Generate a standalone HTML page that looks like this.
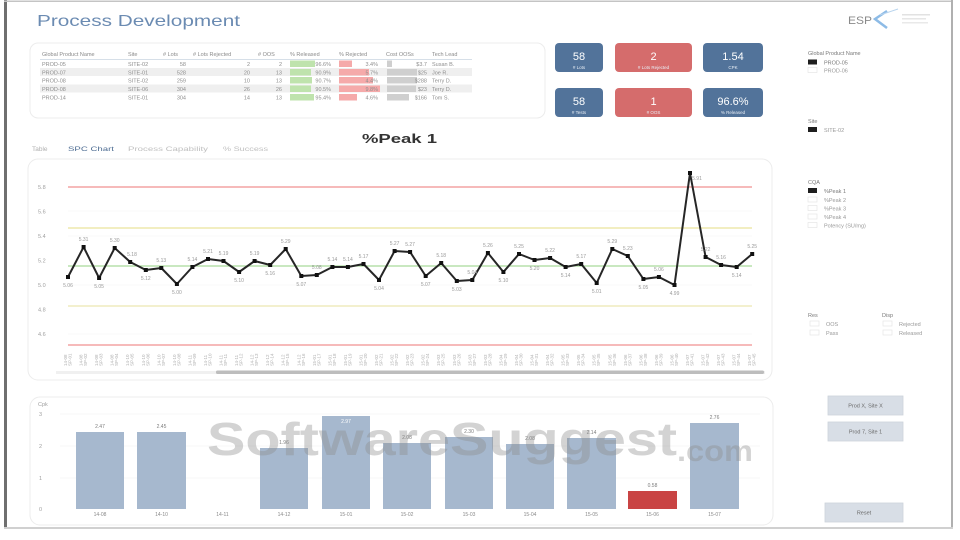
<!DOCTYPE html>
<html><head><meta charset="utf-8"><style>
html,body{margin:0;padding:0;background:#fff;}
svg{display:block;font-family:"Liberation Sans",sans-serif;}
</style></head><body>
<svg width="960" height="540" viewBox="0 0 960 540" xmlns="http://www.w3.org/2000/svg">
<rect x="0" y="0" width="960" height="540" fill="#fff"/>
<!-- frame -->
<rect x="4" y="0" width="3" height="529" fill="#6f6f6f"/>
<rect x="4" y="0.5" width="949" height="1.5" fill="#c4c4c4"/>
<rect x="951" y="0" width="2" height="529" fill="#b0b0b0"/>
<rect x="4" y="527" width="949" height="2" fill="#d0d0d0"/>

<!-- title -->
<text x="37" y="26" font-size="16" fill="#6b8bb2" textLength="203" lengthAdjust="spacingAndGlyphs">Process Development</text>

<!-- logo -->
<text x="848" y="24" font-size="11" fill="#8a8a8a" textLength="24" lengthAdjust="spacingAndGlyphs">ESP</text>
<polyline points="887,11 875,19 887,28" fill="none" stroke="#8dbbe6" stroke-width="2.5"/>
<line x1="880" y1="15" x2="898" y2="9" stroke="#b8d4ee" stroke-width="1"/>
<rect x="902" y="14" width="28" height="1.5" fill="#e2e2e2"/>
<rect x="902" y="18" width="24" height="1.5" fill="#e6e6e6"/>
<rect x="902" y="22" width="26" height="1.5" fill="#e9e9e9"/>

<!-- table card -->
<rect x="30" y="43" width="515" height="75" rx="8" fill="#fff" stroke="#ececec"/>
<g font-size="5.5" fill="#8a8a8a">
<text x="42" y="56">Global Product Name</text>
<text x="128" y="56">Site</text>
<text x="163" y="56">#  Lots</text>
<text x="193" y="56">#  Lots Rejected</text>
<text x="258" y="56"># OOS</text>
<text x="290" y="56">% Released</text>
<text x="339" y="56">% Rejected</text>
<text x="386" y="56">Cost OOSs</text>
<text x="432" y="56">Tech Lead</text>
</g>
<line x1="40" y1="59.5" x2="472" y2="59.5" stroke="#c9d4e0" stroke-width="0.8"/>
<rect x="40" y="68" width="432" height="8" fill="#efefef"/>
<rect x="40" y="84.5" width="432" height="8" fill="#efefef"/>
<!-- bars in table -->
<g fill="#bfe3ad">
<rect x="290" y="60.5" width="25" height="6.5"/>
<rect x="290" y="69" width="21" height="6.5"/>
<rect x="290" y="77" width="22" height="6.5"/>
<rect x="290" y="85.5" width="21" height="6.5"/>
<rect x="290" y="94" width="24" height="6.5"/>
</g>
<g fill="#f5aaaa">
<rect x="339" y="60.5" width="13" height="6.5"/>
<rect x="339" y="69" width="30" height="6.5"/>
<rect x="339" y="77" width="34" height="6.5"/>
<rect x="339" y="85.5" width="41" height="6.5"/>
<rect x="339" y="94" width="18" height="6.5"/>
</g>
<g fill="#cfcfcf">
<rect x="387" y="60.5" width="5" height="6.5"/>
<rect x="387" y="69" width="30" height="6.5"/>
<rect x="387" y="77" width="30" height="6.5"/>
<rect x="387" y="85.5" width="29" height="6.5"/>
<rect x="387" y="94" width="22" height="6.5"/>
</g>
<g font-size="5.5" fill="#8f8f8f">
<text x="42" y="66">PROD-05</text><text x="128" y="66">SITE-02</text>
<text x="186" y="66" text-anchor="end">58</text><text x="250" y="66" text-anchor="end">2</text><text x="282" y="66" text-anchor="end">2</text>
<text x="331" y="66" text-anchor="end">96.6%</text><text x="378" y="66" text-anchor="end">3.4%</text><text x="427" y="66" text-anchor="end">$3.7</text><text x="432" y="66">Susan B.</text>

<text x="42" y="74.5">PROD-07</text><text x="128" y="74.5">SITE-01</text>
<text x="186" y="74.5" text-anchor="end">528</text><text x="250" y="74.5" text-anchor="end">20</text><text x="282" y="74.5" text-anchor="end">13</text>
<text x="331" y="74.5" text-anchor="end">90.9%</text><text x="378" y="74.5" text-anchor="end">5.7%</text><text x="427" y="74.5" text-anchor="end">$25</text><text x="432" y="74.5">Joe R.</text>

<text x="42" y="82.5">PROD-08</text><text x="128" y="82.5">SITE-02</text>
<text x="186" y="82.5" text-anchor="end">259</text><text x="250" y="82.5" text-anchor="end">10</text><text x="282" y="82.5" text-anchor="end">13</text>
<text x="331" y="82.5" text-anchor="end">90.7%</text><text x="378" y="82.5" text-anchor="end">4.4%</text><text x="427" y="82.5" text-anchor="end">$288</text><text x="432" y="82.5">Terry D.</text>

<text x="42" y="91">PROD-08</text><text x="128" y="91">SITE-06</text>
<text x="186" y="91" text-anchor="end">304</text><text x="250" y="91" text-anchor="end">26</text><text x="282" y="91" text-anchor="end">26</text>
<text x="331" y="91" text-anchor="end">90.5%</text><text x="378" y="91" text-anchor="end">9.8%</text><text x="427" y="91" text-anchor="end">$23</text><text x="432" y="91">Terry D.</text>

<text x="42" y="99.5">PROD-14</text><text x="128" y="99.5">SITE-01</text>
<text x="186" y="99.5" text-anchor="end">304</text><text x="250" y="99.5" text-anchor="end">14</text><text x="282" y="99.5" text-anchor="end">13</text>
<text x="331" y="99.5" text-anchor="end">95.4%</text><text x="378" y="99.5" text-anchor="end">4.6%</text><text x="427" y="99.5" text-anchor="end">$166</text><text x="432" y="99.5">Tom S.</text>
</g>

<!-- KPI tiles -->
<g>
<rect x="555" y="43" width="48" height="29" rx="4" fill="#52739a"/>
<rect x="615" y="43" width="77" height="29" rx="4" fill="#d56c6c"/>
<rect x="703" y="43" width="60" height="29" rx="4" fill="#52739a"/>
<rect x="555" y="88" width="48" height="29" rx="4" fill="#52739a"/>
<rect x="615" y="88" width="77" height="29" rx="4" fill="#d56c6c"/>
<rect x="703" y="88" width="60" height="29" rx="4" fill="#52739a"/>
</g>
<g fill="#fff" text-anchor="middle">
<text x="579" y="60" font-size="11">58</text>
<text x="653.5" y="60" font-size="11">2</text>
<text x="733" y="60" font-size="11">1.54</text>
<text x="579" y="105" font-size="11">58</text>
<text x="653.5" y="105" font-size="11">1</text>
<text x="733" y="105" font-size="11">96.6%</text>
<g font-size="4.5" fill="#e8eef5">
<text x="579" y="69"># Lots</text>
<text x="653.5" y="69"># Lots Rejected</text>
<text x="733" y="69">CPK</text>
<text x="579" y="114"># Tests</text>
<text x="653.5" y="114"># OOS</text>
<text x="733" y="114">% Released</text>
</g>
</g>

<!-- right panel filters -->
<g font-size="5.5" fill="#7a7a7a">
<text x="808" y="55">Global Product Name</text>
<rect x="808" y="59.5" width="9" height="5" fill="#1e1e1e"/>
<text x="824" y="64.5">PROD-05</text>
<rect x="808" y="67.5" width="9" height="5" fill="#fff" stroke="#e2e2e2" stroke-width="0.6"/>
<text x="824" y="72.5" fill="#999">PROD-06</text>

<text x="808" y="123">Site</text>
<rect x="808" y="127" width="9" height="5" fill="#1e1e1e"/>
<text x="824" y="132" fill="#999">SITE-02</text>

<text x="808" y="184">CQA</text>
<rect x="808" y="188" width="9" height="5" fill="#1e1e1e"/>
<text x="824" y="193">%Peak 1</text>
<rect x="808" y="197" width="9" height="5" fill="#fff" stroke="#e2e2e2" stroke-width="0.6"/>
<text x="824" y="202" fill="#999">%Peak 2</text>
<rect x="808" y="205.5" width="9" height="5" fill="#fff" stroke="#e2e2e2" stroke-width="0.6"/>
<text x="824" y="210.5" fill="#999">%Peak 3</text>
<rect x="808" y="214" width="9" height="5" fill="#fff" stroke="#e2e2e2" stroke-width="0.6"/>
<text x="824" y="219" fill="#999">%Peak 4</text>
<rect x="808" y="222.5" width="9" height="5" fill="#fff" stroke="#e2e2e2" stroke-width="0.6"/>
<text x="824" y="227.5" fill="#999">Potency (SU/mg)</text>

<text x="808" y="317">Res</text>
<rect x="810" y="321" width="9" height="5" fill="#fff" stroke="#e2e2e2" stroke-width="0.6"/>
<text x="826" y="326" fill="#999">OOS</text>
<rect x="810" y="330" width="9" height="5" fill="#fff" stroke="#e2e2e2" stroke-width="0.6"/>
<text x="826" y="335" fill="#999">Pass</text>

<text x="882" y="317">Disp</text>
<rect x="883" y="321" width="9" height="5" fill="#fff" stroke="#e2e2e2" stroke-width="0.6"/>
<text x="899" y="326" fill="#999">Rejected</text>
<rect x="883" y="330" width="9" height="5" fill="#fff" stroke="#e2e2e2" stroke-width="0.6"/>
<text x="899" y="335" fill="#999">Released</text>
</g>

<!-- chart title + tabs -->
<text x="362" y="143" font-size="13" font-weight="bold" fill="#333" textLength="75" lengthAdjust="spacingAndGlyphs">%Peak 1</text>
<g font-size="6.5">
<text x="32" y="151" fill="#b0b0b0">Table</text>
<text x="68" y="151" fill="#4e6d93" textLength="46" lengthAdjust="spacingAndGlyphs">SPC Chart</text>
<text x="128" y="151" fill="#c0c0c0" textLength="80" lengthAdjust="spacingAndGlyphs">Process Capability</text>
<text x="223" y="151" fill="#c0c0c0" textLength="45" lengthAdjust="spacingAndGlyphs">% Success</text>
</g>

<!-- SPC card -->
<rect x="28" y="159" width="744" height="221" rx="10" fill="#fff" stroke="#ececec"/>
<g font-size="5.5" fill="#a0a0a0">
<text x="38" y="189">5.8</text>
<text x="38" y="213.5">5.6</text>
<text x="38" y="238">5.4</text>
<text x="38" y="262.5">5.2</text>
<text x="38" y="287">5.0</text>
<text x="38" y="311.5">4.8</text>
<text x="38" y="336">4.6</text>
</g>
<g stroke="#f6f6f6" stroke-width="0.8">
<line x1="68" y1="211" x2="752" y2="211"/>
<line x1="68" y1="236" x2="752" y2="236"/>
<line x1="68" y1="285" x2="752" y2="285"/>
<line x1="68" y1="334" x2="752" y2="334"/>
</g>
<line x1="68" y1="187" x2="752" y2="187" stroke="#f3a3a3" stroke-width="1.5"/>
<line x1="68" y1="345" x2="752" y2="345" stroke="#f3a3a3" stroke-width="1.5"/>
<line x1="68" y1="228" x2="752" y2="228" stroke="#e9e49c" stroke-width="1.3"/>
<line x1="68" y1="306" x2="752" y2="306" stroke="#ece8b0" stroke-width="1.3"/>
<line x1="68" y1="266" x2="752" y2="266" stroke="#a9d99b" stroke-width="1.3"/>

<polyline fill="none" stroke="#262626" stroke-width="2" stroke-linejoin="round" points="68,277 83.6,247 99.1,278 114.7,248 130.2,262 145.8,270 161.3,268 176.9,284 192.4,267 208,259 223.5,261 239.1,272 254.6,261 270.2,265 285.7,249 301.3,276 316.8,275 332.4,267 347.9,267 363.5,264 379,280 394.6,251 410.1,252 425.7,276 441.2,263 456.8,281 472.3,280 487.9,253 503.4,272 519,254 534.5,260 550.1,258 565.6,267 581.2,264 596.7,283 612.3,249 627.8,256 643.4,279 658.9,277 674.5,285 690,173 705.6,257 721.1,265 736.7,267 752.2,254"/>
<g fill="#111">
<rect x="66" y="275" width="4" height="4"/><rect x="81.6" y="245" width="4" height="4"/><rect x="97.1" y="276" width="4" height="4"/><rect x="112.7" y="246" width="4" height="4"/><rect x="128.2" y="260" width="4" height="4"/><rect x="143.8" y="268" width="4" height="4"/><rect x="159.3" y="266" width="4" height="4"/><rect x="174.9" y="282" width="4" height="4"/><rect x="190.4" y="265" width="4" height="4"/><rect x="206" y="257" width="4" height="4"/><rect x="221.5" y="259" width="4" height="4"/><rect x="237.1" y="270" width="4" height="4"/><rect x="252.6" y="259" width="4" height="4"/><rect x="268.2" y="263" width="4" height="4"/><rect x="283.7" y="247" width="4" height="4"/><rect x="299.3" y="274" width="4" height="4"/><rect x="314.8" y="273" width="4" height="4"/><rect x="330.4" y="265" width="4" height="4"/><rect x="345.9" y="265" width="4" height="4"/><rect x="361.5" y="262" width="4" height="4"/><rect x="377" y="278" width="4" height="4"/><rect x="392.6" y="249" width="4" height="4"/><rect x="408.1" y="250" width="4" height="4"/><rect x="423.7" y="274" width="4" height="4"/><rect x="439.2" y="261" width="4" height="4"/><rect x="454.8" y="279" width="4" height="4"/><rect x="470.3" y="278" width="4" height="4"/><rect x="485.9" y="251" width="4" height="4"/><rect x="501.4" y="270" width="4" height="4"/><rect x="517" y="252" width="4" height="4"/><rect x="532.5" y="258" width="4" height="4"/><rect x="548.1" y="256" width="4" height="4"/><rect x="563.6" y="265" width="4" height="4"/><rect x="579.2" y="262" width="4" height="4"/><rect x="594.7" y="281" width="4" height="4"/><rect x="610.3" y="247" width="4" height="4"/><rect x="625.8" y="254" width="4" height="4"/><rect x="641.4" y="277" width="4" height="4"/><rect x="656.9" y="275" width="4" height="4"/><rect x="672.5" y="283" width="4" height="4"/><rect x="688" y="171" width="4" height="4"/><rect x="703.6" y="255" width="4" height="4"/><rect x="719.1" y="263" width="4" height="4"/><rect x="734.7" y="265" width="4" height="4"/><rect x="750.2" y="252" width="4" height="4"/>
</g>
<g font-size="5" fill="#9a9a9a" text-anchor="middle">
<text x="68" y="287">5.06</text><text x="83.6" y="241">5.31</text><text x="99.1" y="288">5.05</text><text x="114.7" y="242">5.30</text><text x="132" y="256">5.18</text><text x="145.8" y="280">5.12</text><text x="161.3" y="262">5.13</text><text x="176.9" y="294">5.00</text><text x="192.4" y="261">5.14</text><text x="208" y="253">5.21</text><text x="223.5" y="255">5.19</text><text x="239.1" y="282">5.10</text><text x="254.6" y="255">5.19</text><text x="270.2" y="275">5.16</text><text x="285.7" y="243">5.29</text><text x="301.3" y="286">5.07</text><text x="316.8" y="269">5.08</text><text x="332.4" y="261">5.14</text><text x="347.9" y="261">5.14</text><text x="363.5" y="258">5.17</text><text x="379" y="290">5.04</text><text x="394.6" y="245">5.27</text><text x="410.1" y="246">5.27</text><text x="425.7" y="286">5.07</text><text x="441.2" y="257">5.18</text><text x="456.8" y="291">5.03</text><text x="472.3" y="274">5.04</text><text x="487.9" y="247">5.26</text><text x="503.4" y="282">5.10</text><text x="519" y="248">5.25</text><text x="534.5" y="270">5.20</text><text x="550.1" y="252">5.22</text><text x="565.6" y="277">5.14</text><text x="581.2" y="258">5.17</text><text x="596.7" y="293">5.01</text><text x="612.3" y="243">5.29</text><text x="627.8" y="250">5.23</text><text x="643.4" y="289">5.05</text><text x="658.9" y="271">5.06</text><text x="674.5" y="295">4.99</text><text x="697" y="180">5.91</text><text x="705.6" y="251">5.22</text><text x="721.1" y="259">5.16</text><text x="736.7" y="277">5.14</text><text x="752.2" y="248">5.25</text>
</g>
<!-- x labels (rotated) -->
<g font-size="4.5" fill="#b0b0b0">
<g id="xl">
<text transform="translate(67,366) rotate(-90)">14-08</text>
<text transform="translate(71.5,366) rotate(-90)">SP-01</text>
</g>
</g>
<g font-size="4.5" fill="#b0b0b0">
<text transform="translate(82.6,366) rotate(-90)">14-08</text><text transform="translate(87.1,366) rotate(-90)">SP-02</text>
<text transform="translate(98.1,366) rotate(-90)">14-08</text><text transform="translate(102.6,366) rotate(-90)">SP-03</text>
<text transform="translate(113.7,366) rotate(-90)">14-08</text><text transform="translate(118.2,366) rotate(-90)">SP-04</text>
<text transform="translate(129.2,366) rotate(-90)">14-10</text><text transform="translate(133.7,366) rotate(-90)">SP-05</text>
<text transform="translate(144.8,366) rotate(-90)">14-10</text><text transform="translate(149.3,366) rotate(-90)">SP-06</text>
<text transform="translate(160.3,366) rotate(-90)">14-10</text><text transform="translate(164.8,366) rotate(-90)">SP-07</text>
<text transform="translate(175.9,366) rotate(-90)">14-10</text><text transform="translate(180.4,366) rotate(-90)">SP-08</text>
<text transform="translate(191.4,366) rotate(-90)">14-11</text><text transform="translate(195.9,366) rotate(-90)">SP-09</text>
<text transform="translate(207,366) rotate(-90)">14-11</text><text transform="translate(211.5,366) rotate(-90)">SP-10</text>
<text transform="translate(222.5,366) rotate(-90)">14-11</text><text transform="translate(227,366) rotate(-90)">SP-11</text>
<text transform="translate(238.1,366) rotate(-90)">14-11</text><text transform="translate(242.6,366) rotate(-90)">SP-12</text>
<text transform="translate(253.6,366) rotate(-90)">14-12</text><text transform="translate(258.1,366) rotate(-90)">SP-13</text>
<text transform="translate(269.2,366) rotate(-90)">14-12</text><text transform="translate(273.7,366) rotate(-90)">SP-14</text>
<text transform="translate(284.7,366) rotate(-90)">14-12</text><text transform="translate(289.2,366) rotate(-90)">SP-15</text>
<text transform="translate(300.3,366) rotate(-90)">14-12</text><text transform="translate(304.8,366) rotate(-90)">SP-16</text>
<text transform="translate(315.8,366) rotate(-90)">15-01</text><text transform="translate(320.3,366) rotate(-90)">SP-17</text>
<text transform="translate(331.4,366) rotate(-90)">15-01</text><text transform="translate(335.9,366) rotate(-90)">SP-18</text>
<text transform="translate(346.9,366) rotate(-90)">15-01</text><text transform="translate(351.4,366) rotate(-90)">SP-19</text>
<text transform="translate(362.5,366) rotate(-90)">15-01</text><text transform="translate(367,366) rotate(-90)">SP-20</text>
<text transform="translate(378,366) rotate(-90)">15-02</text><text transform="translate(382.5,366) rotate(-90)">SP-21</text>
<text transform="translate(393.6,366) rotate(-90)">15-02</text><text transform="translate(398.1,366) rotate(-90)">SP-22</text>
<text transform="translate(409.1,366) rotate(-90)">15-02</text><text transform="translate(413.6,366) rotate(-90)">SP-23</text>
<text transform="translate(424.7,366) rotate(-90)">15-02</text><text transform="translate(429.2,366) rotate(-90)">SP-24</text>
<text transform="translate(440.2,366) rotate(-90)">15-03</text><text transform="translate(444.7,366) rotate(-90)">SP-25</text>
<text transform="translate(455.8,366) rotate(-90)">15-03</text><text transform="translate(460.3,366) rotate(-90)">SP-26</text>
<text transform="translate(471.3,366) rotate(-90)">15-03</text><text transform="translate(475.8,366) rotate(-90)">SP-27</text>
<text transform="translate(486.9,366) rotate(-90)">15-03</text><text transform="translate(491.4,366) rotate(-90)">SP-28</text>
<text transform="translate(502.4,366) rotate(-90)">15-04</text><text transform="translate(506.9,366) rotate(-90)">SP-29</text>
<text transform="translate(518,366) rotate(-90)">15-04</text><text transform="translate(522.5,366) rotate(-90)">SP-30</text>
<text transform="translate(533.5,366) rotate(-90)">15-04</text><text transform="translate(538,366) rotate(-90)">SP-31</text>
<text transform="translate(549.1,366) rotate(-90)">15-04</text><text transform="translate(553.6,366) rotate(-90)">SP-32</text>
<text transform="translate(564.6,366) rotate(-90)">15-05</text><text transform="translate(569.1,366) rotate(-90)">SP-33</text>
<text transform="translate(580.2,366) rotate(-90)">15-05</text><text transform="translate(584.7,366) rotate(-90)">SP-34</text>
<text transform="translate(595.7,366) rotate(-90)">15-05</text><text transform="translate(600.2,366) rotate(-90)">SP-35</text>
<text transform="translate(611.3,366) rotate(-90)">15-05</text><text transform="translate(615.8,366) rotate(-90)">SP-36</text>
<text transform="translate(626.8,366) rotate(-90)">15-06</text><text transform="translate(631.3,366) rotate(-90)">SP-37</text>
<text transform="translate(642.4,366) rotate(-90)">15-06</text><text transform="translate(646.9,366) rotate(-90)">SP-38</text>
<text transform="translate(657.9,366) rotate(-90)">15-06</text><text transform="translate(662.4,366) rotate(-90)">SP-39</text>
<text transform="translate(673.5,366) rotate(-90)">15-06</text><text transform="translate(678,366) rotate(-90)">SP-40</text>
<text transform="translate(689,366) rotate(-90)">15-07</text><text transform="translate(693.5,366) rotate(-90)">SP-41</text>
<text transform="translate(704.6,366) rotate(-90)">15-07</text><text transform="translate(709.1,366) rotate(-90)">SP-42</text>
<text transform="translate(720.1,366) rotate(-90)">15-07</text><text transform="translate(724.6,366) rotate(-90)">SP-43</text>
<text transform="translate(735.7,366) rotate(-90)">15-07</text><text transform="translate(740.2,366) rotate(-90)">SP-44</text>
<text transform="translate(751.2,366) rotate(-90)">15-07</text><text transform="translate(755.7,366) rotate(-90)">SP-45</text>
</g>
<!-- scrollbar -->
<rect x="56" y="371" width="709" height="3" fill="#f0f0f0"/>
<rect x="216" y="370.5" width="548" height="3.5" rx="1.5" fill="#bdbdbd"/>

<!-- bar chart card -->
<rect x="30" y="397" width="743" height="128" rx="10" fill="#fff" stroke="#ececec"/>
<g font-size="5.5" fill="#a0a0a0">
<text x="38" y="406">Cpk</text>
<text x="39" y="416">3</text>
<text x="39" y="448">2</text>
<text x="39" y="480">1</text>
<text x="39" y="511">0</text>
</g>
<g stroke="#f4f4f4" stroke-width="0.8">
<line x1="60" y1="414" x2="760" y2="414"/>
<line x1="60" y1="446" x2="760" y2="446"/>
<line x1="60" y1="478" x2="760" y2="478"/>
</g>
<g fill="#a6b8ce">
<rect x="76" y="432" width="48" height="77"/>
<rect x="137" y="432" width="49" height="77"/>
<rect x="260" y="448" width="48" height="61"/>
<rect x="322" y="416" width="48" height="93"/>
<rect x="383" y="443" width="48" height="66"/>
<rect x="445" y="437" width="48" height="72"/>
<rect x="506" y="444" width="48" height="65"/>
<rect x="567" y="438" width="49" height="71"/>
<rect x="690" y="423" width="49" height="86"/>
</g>
<rect x="628" y="491" width="49" height="18" fill="#c94444"/>
<g font-size="5" fill="#7d7d7d" text-anchor="middle">
<text x="100" y="428">2.47</text>
<text x="161.5" y="428">2.45</text>
<text x="284" y="444">1.96</text>
<text x="346" y="423" fill="#fff">2.97</text>
<text x="407" y="439">2.08</text>
<text x="469" y="433">2.30</text>
<text x="530" y="440">2.08</text>
<text x="591.5" y="434">2.14</text>
<text x="652.5" y="487">0.58</text>
<text x="714.5" y="419">2.76</text>
</g>
<g font-size="5" fill="#8a8a8a" text-anchor="middle">
<text x="100" y="516">14-08</text>
<text x="161.5" y="516">14-10</text>
<text x="222.5" y="516">14-11</text>
<text x="284" y="516">14-12</text>
<text x="346" y="516">15-01</text>
<text x="407" y="516">15-02</text>
<text x="469" y="516">15-03</text>
<text x="530" y="516">15-04</text>
<text x="591.5" y="516">15-05</text>
<text x="652.5" y="516">15-06</text>
<text x="714.5" y="516">15-07</text>
</g>

<!-- buttons -->
<rect x="828" y="396" width="75" height="19" fill="#d8dee6" stroke="#cdd3db" stroke-width="0.8"/>
<rect x="828" y="422" width="75" height="19" fill="#d8dee6" stroke="#cdd3db" stroke-width="0.8"/>
<rect x="825" y="503" width="78" height="19" fill="#d8dee6" stroke="#cdd3db" stroke-width="0.8"/>
<g font-size="5.5" fill="#6a6a6a" text-anchor="middle">
<text x="865.5" y="407.5">Prod X, Site X</text>
<text x="865.5" y="433.5">Prod 7, Site 1</text>
<text x="864" y="514.5">Reset</text>
</g>

<!-- watermark -->
<g font-weight="bold" fill="#8c8c8c" fill-opacity="0.38">
<text x="207" y="455" font-size="46" textLength="470" lengthAdjust="spacingAndGlyphs">SoftwareSuggest</text>
<text x="677" y="461" font-size="30" textLength="76" lengthAdjust="spacingAndGlyphs">.com</text>
</g>
</svg>
</body></html>
